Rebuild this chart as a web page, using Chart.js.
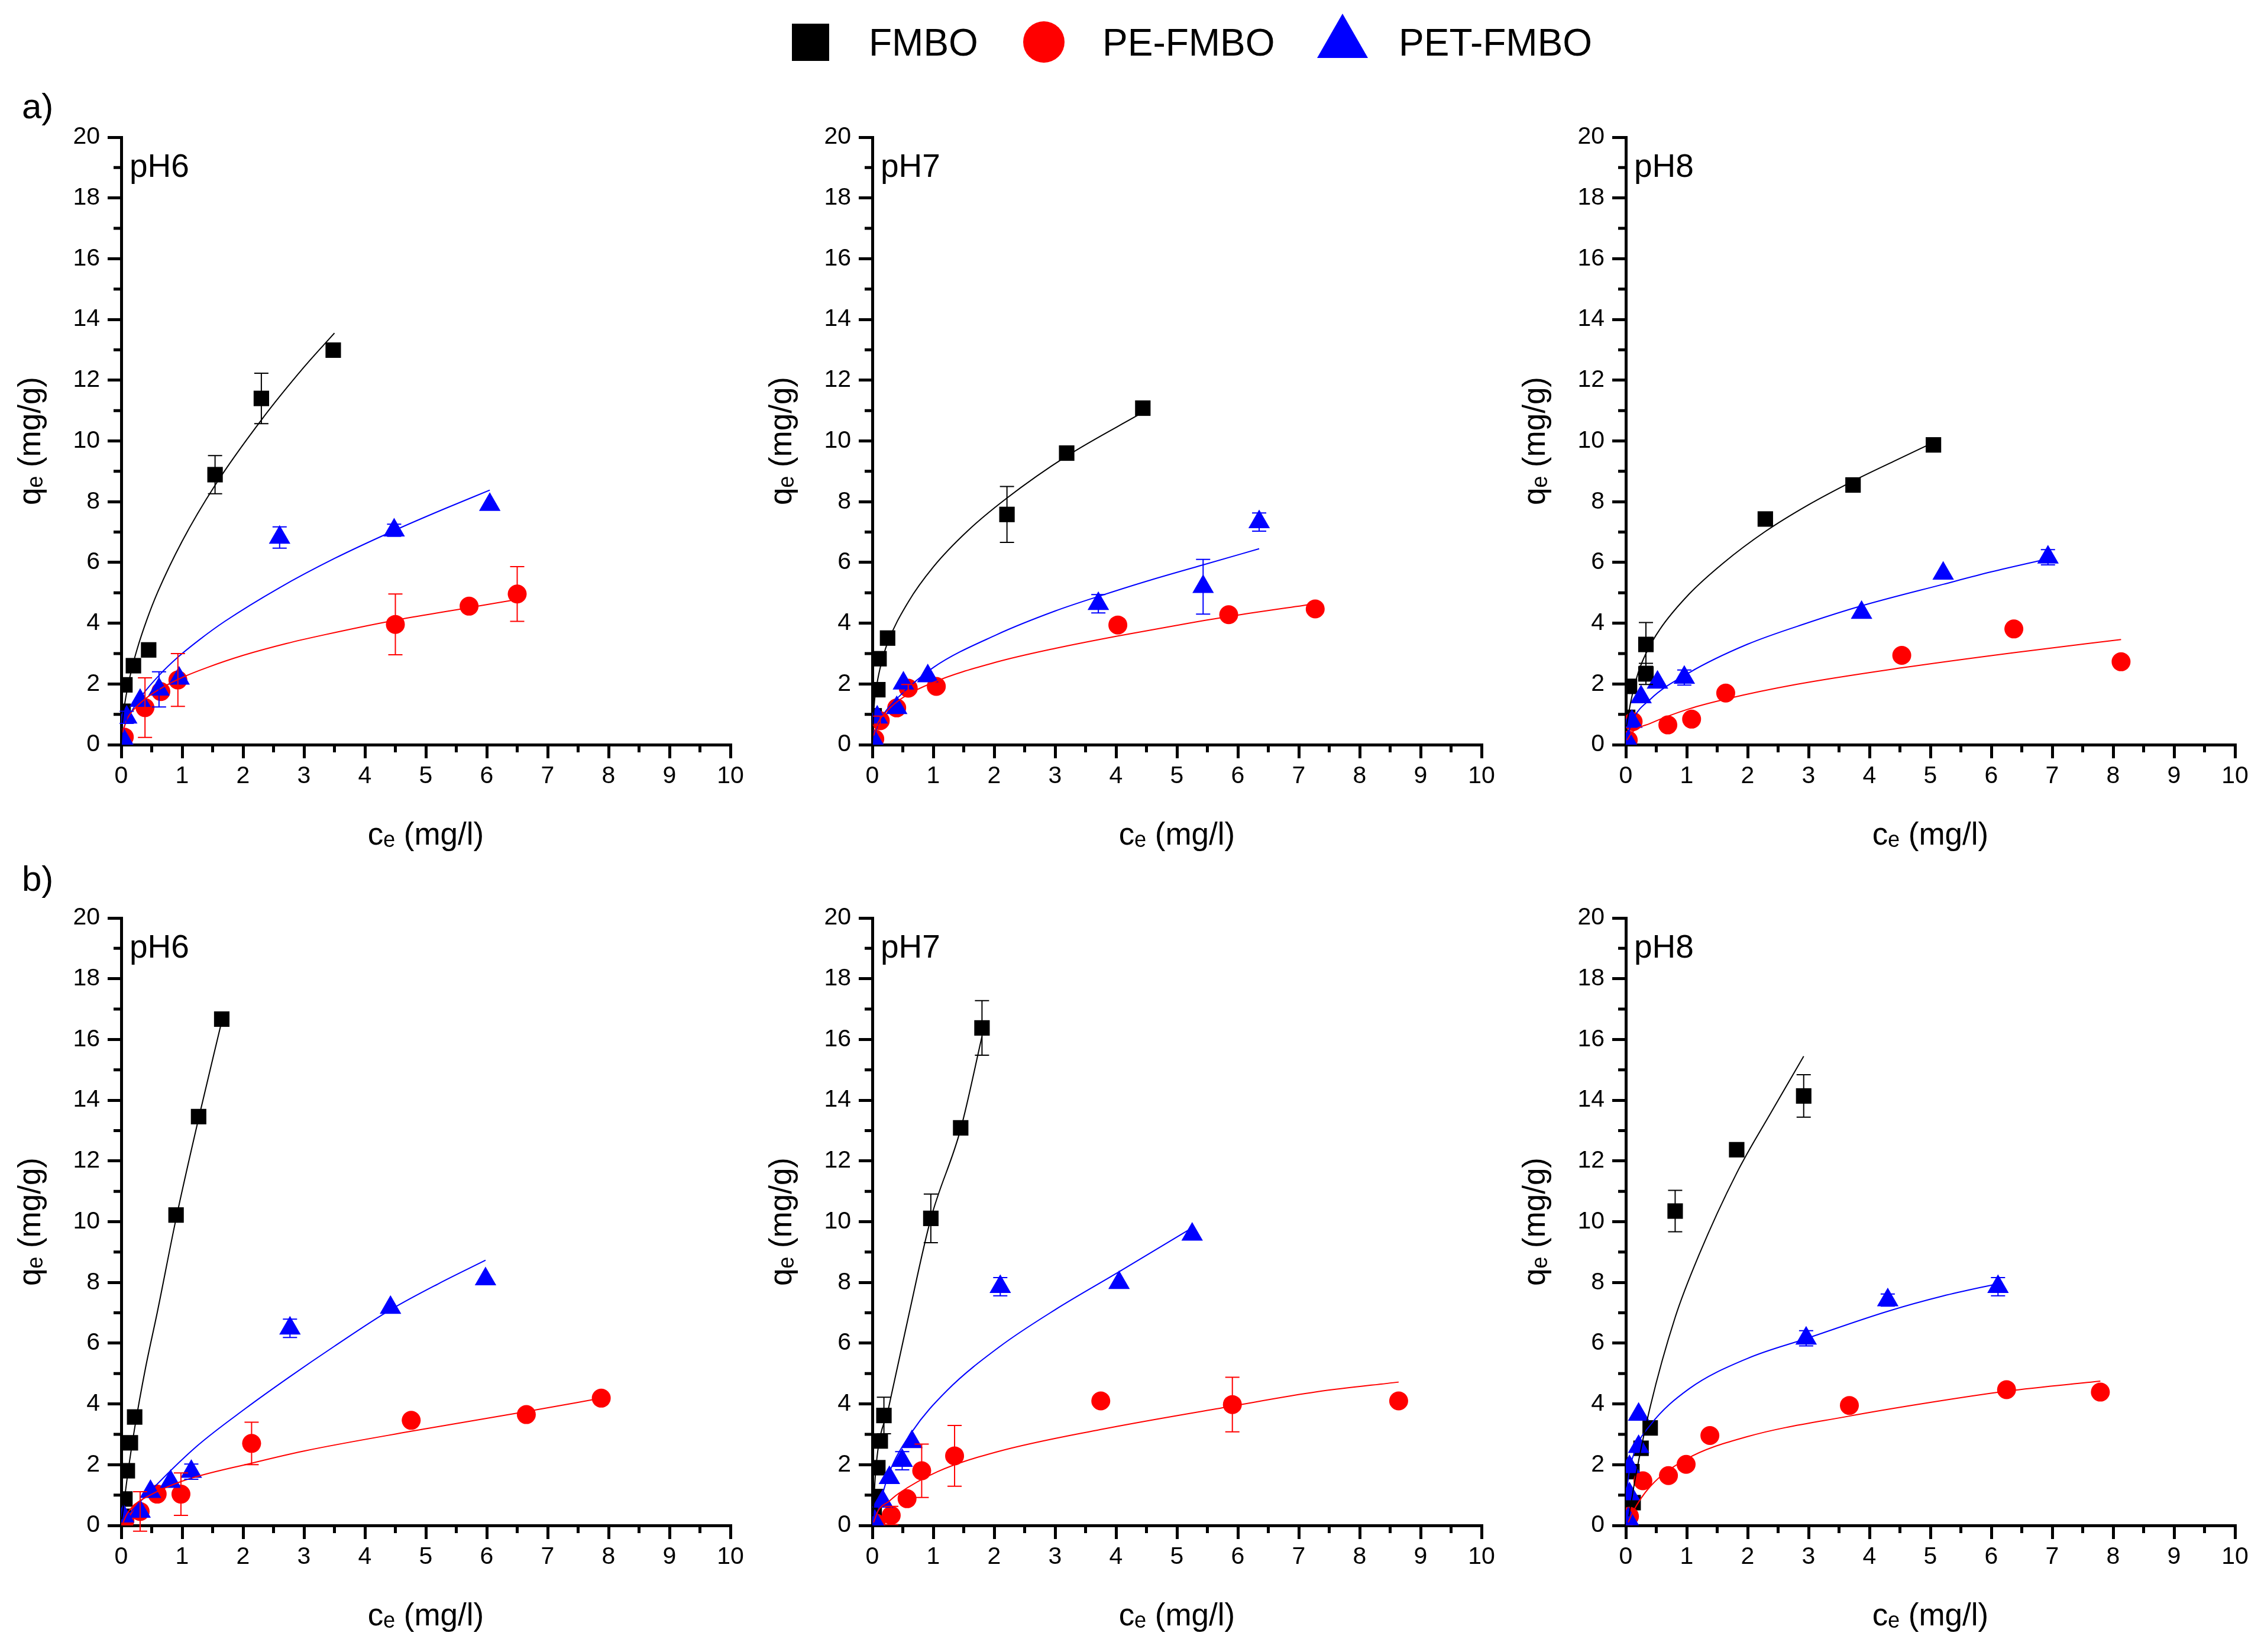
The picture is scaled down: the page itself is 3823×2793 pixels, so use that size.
<!DOCTYPE html>
<html>
<head>
<meta charset="utf-8">
<title>Adsorption isotherms</title>
<script src="https://cdn.jsdelivr.net/npm/chart.js@4.4.1/dist/chart.umd.min.js"></script>
<style>
   html, body { margin: 0; padding: 0; background: #fff; }
   .page {
      position: relative;
      width: 3823px;
      height: 2793px;
      overflow: hidden;
      background: #fff;
      font-family: 'Liberation Sans', Arial, sans-serif;
      color: #000;
   }
   .page canvas { position: absolute; }
   .row-label { position: absolute; left: 37px; font-size: 60px; line-height: 60px; }
   .legend__text { position: absolute; top: 40px; font-size: 64px; line-height: 64px; white-space: nowrap; }
   .legend__square { position: absolute; left: 1339px; top: 40px; width: 63px; height: 63px; background: #000; }
   .legend__circle { position: absolute; left: 1730px; top: 36px; width: 70px; height: 70px; border-radius: 50%; background: #f00; }
   .legend__triangle {
      position: absolute; left: 2227px; top: 23px; width: 0; height: 0;
      border-left: 43px solid transparent; border-right: 43px solid transparent; border-bottom: 75px solid #00f;
   }
</style>
</head>
<body>
<div class="page" id="page">
   <div class="legend__square"></div>
   <div class="legend__text" id="leg0" style="left:1469px"></div>
   <div class="legend__circle"></div>
   <div class="legend__text" id="leg1" style="left:1864px"></div>
   <div class="legend__triangle"></div>
   <div class="legend__text" id="leg2" style="left:2365px"></div>
   <div class="row-label" id="row0" style="top:150px"></div>
   <div class="row-label" id="row1" style="top:1456px"></div>
</div>
<script>
// ---- values: [ce, qe, error] and fitted curves [ce, qe] ----
const SERIES = ['FMBO', 'PE-FMBO', 'PET-FMBO'];
const PH_LABELS = ['pH6', 'pH7', 'pH8'];
const ROW_LABELS = ['a)', 'b)'];
const X_TICKS = [0, 1, 2, 3, 4, 5, 6, 7, 8, 9, 10];
const Y_TICKS = [0, 2, 4, 6, 8, 10, 12, 14, 16, 18, 20];
const X_TITLE = 'c\u2091 (mg/l)';
const Y_TITLE = 'q\u2091 (mg/g)';

// a) pH6
const a_pH6_FMBO = [[0.03,1.10,0],[0.06,1.97,0],[0.20,2.60,0],[0.45,3.12,0],[1.54,8.89,0.63],[2.30,11.40,0.83],[3.48,12.99,0]];
const a_pH6_PE = [[0.05,0.25,0],[0.39,1.22,0.98],[0.65,1.75,0],[0.93,2.13,0.87],[4.50,3.96,1.00],[5.71,4.56,0],[6.50,4.96,0.90]];
const a_pH6_PET = [[0.05,0.12,0],[0.09,0.90,0.20],[0.31,1.45,0],[0.62,1.82,0.58],[0.95,2.18,0],[2.60,6.82,0.35],[4.48,7.06,0.20],[6.05,7.90,0]];
const a_pH6_FMBO_fit = [[0,0],[0.02,0.74],[0.06,1.38],[0.16,2.39],[0.26,3.14],[0.42,4.11],[0.6,5.03],[1.0,6.7],[1.54,8.54],[2.3,10.69],[3.0,12.43],[3.5,13.55]];
const a_pH6_PE_fit = [[0.02,0.4],[0.1,0.86],[0.24,1.23],[0.44,1.58],[0.7,1.91],[1.02,2.23],[1.41,2.54],[2.0,2.94],[2.71,3.33],[3.34,3.62],[4.48,4.09],[5.5,4.44],[6.5,4.78]];
const a_pH6_PET_fit = [[0.01,0.2],[0.03,0.45],[0.15,1.02],[0.34,1.62],[0.63,2.3],[0.93,2.88],[1.28,3.45],[1.7,4.06],[2.6,5.17],[3.5,6.13],[4.48,7.05],[5.3,7.76],[6.05,8.38]];

// a) pH7
const a_pH7_FMBO = [[0.03,0.95,0],[0.09,1.81,0],[0.11,2.83,0],[0.25,3.51,0],[2.21,7.58,0.92],[3.19,9.60,0],[4.44,11.08,0]];
const a_pH7_PE = [[0.04,0.19,0],[0.13,0.79,0.15],[0.40,1.21,0],[0.59,1.86,0.12],[1.05,1.92,0],[4.03,3.94,0],[5.85,4.28,0],[7.27,4.47,0]];
const a_pH7_PET = [[0.04,0.10,0],[0.08,0.90,0],[0.40,1.21,0],[0.51,2.02,0],[0.91,2.26,0],[3.71,4.64,0.30],[5.43,5.20,0.90],[6.35,7.33,0.30]];
const a_pH7_FMBO_fit = [[0,0],[0.03,1.3],[0.08,2.05],[0.15,2.7],[0.25,3.35],[0.59,4.7],[1.0,5.85],[1.56,7.03],[2.21,8.12],[3.19,9.5],[4.44,10.94]];
const a_pH7_PE_fit = [[0.02,0.3],[0.1,0.75],[0.2,1.02],[0.43,1.45],[1.0,2.05],[2.04,2.72],[3.0,3.17],[4.03,3.58],[5.0,3.93],[5.85,4.22],[7.27,4.64]];
const a_pH7_PET_fit = [[0.02,0.2],[0.1,0.7],[0.2,1.05],[0.43,1.57],[1.0,2.54],[2.04,3.62],[3.0,4.4],[3.71,4.88],[4.5,5.38],[5.43,5.92],[6.35,6.45]];

// a) pH8
const a_pH8_FMBO = [[0.03,0.90,0],[0.06,1.92,0],[0.33,2.33,0.35],[0.33,3.30,0.72],[2.29,7.43,0],[3.73,8.55,0],[5.05,9.87,0]];
const a_pH8_PE = [[0.04,0.15,0],[0.12,0.76,0],[0.69,0.65,0],[1.08,0.84,0],[1.64,1.70,0],[4.53,2.94,0],[6.37,3.81,0],[8.13,2.73,0]];
const a_pH8_PET = [[0.04,0.10,0],[0.10,0.76,0],[0.25,1.57,0],[0.52,2.05,0],[0.96,2.21,0.25],[3.87,4.35,0],[5.21,5.64,0],[6.93,6.17,0.25]];
const a_pH8_FMBO_fit = [[0.01,0.6],[0.08,1.4],[0.2,2.35],[0.33,3.0],[0.56,3.8],[1.04,4.96],[1.6,5.98],[2.29,7.02],[3.0,7.9],[3.73,8.68],[4.4,9.33],[5.05,9.95]];
const a_pH8_PE_fit = [[0.02,0.15],[0.1,0.4],[0.4,0.7],[1.04,1.18],[1.64,1.5],[2.79,1.98],[4.53,2.53],[6.37,3.03],[8.13,3.46]];
const a_pH8_PET_fit = [[0.02,0.2],[0.1,0.75],[0.4,1.49],[1.04,2.37],[1.99,3.3],[3.0,4.02],[3.87,4.57],[5.21,5.28],[6.0,5.69],[6.93,6.12]];

// b) pH6
const b_pH6_FMBO = [[0.03,0.30,0],[0.06,0.87,0],[0.10,1.80,0],[0.15,2.72,0],[0.22,3.57,0],[0.90,10.22,0],[1.27,13.46,0],[1.65,16.67,0]];
const b_pH6_PE = [[0.03,0.10,0],[0.06,0.16,0],[0.31,0.46,0.65],[0.59,1.03,0],[0.98,1.03,0.70],[2.14,2.70,0.70],[4.76,3.46,0],[6.65,3.65,0],[7.88,4.19,0]];
const b_pH6_PET = [[0.04,0.30,0],[0.31,0.46,0],[0.48,1.11,0],[0.81,1.44,0],[1.15,1.77,0.25],[2.77,6.49,0.30],[4.42,7.17,0],[5.98,8.11,0]];
const b_pH6_FMBO_fit = [[0.01,0.2],[0.1,1.6],[0.22,3.2],[0.4,5.2],[0.59,7.0],[0.9,10.1],[1.27,13.4],[1.65,16.6]];
const b_pH6_PE_fit = [[0.03,0.1],[0.1,0.4],[0.2,0.65],[0.43,0.95],[0.99,1.45],[2.14,2.05],[3.0,2.45],[4.76,3.1],[6.65,3.75],[7.88,4.19]];
const b_pH6_PET_fit = [[0.02,0.1],[0.06,0.21],[0.43,1.03],[1.23,2.59],[2.04,3.85],[2.77,4.9],[3.5,5.9],[4.42,7.1],[5.2,7.95],[5.98,8.73]];

// b) pH7
const b_pH7_FMBO = [[0.03,0.40,0],[0.06,0.95,0],[0.09,1.90,0],[0.13,2.78,0],[0.19,3.62,0.60],[0.96,10.11,0.80],[1.45,13.09,0],[1.80,16.38,0.90]];
const b_pH7_PE = [[0.06,0.08,0],[0.31,0.33,0.30],[0.57,0.88,0],[0.81,1.80,0.88],[1.35,2.29,1.00],[3.75,4.10,0],[5.91,3.98,0.90],[8.64,4.10,0]];
const b_pH7_PET = [[0.04,0.13,0],[0.17,0.79,0],[0.28,1.57,0],[0.49,2.13,0.30],[0.65,2.75,0],[2.10,7.86,0.30],[4.05,7.99,0],[5.25,9.58,0]];
const b_pH7_FMBO_fit = [[0.01,0.3],[0.06,1.93],[0.27,3.9],[0.59,6.85],[0.96,10.1],[1.45,13.05],[1.8,16.1]];
const b_pH7_PE_fit = [[0.02,0.1],[0.1,0.5],[0.27,0.79],[0.43,1.05],[1.07,1.77],[2.04,2.42],[3.75,3.16],[5.91,3.93],[7.3,4.4],[8.64,4.72]];
const b_pH7_PET_fit = [[0.02,0.15],[0.06,0.3],[0.27,1.7],[0.65,3.08],[1.23,4.45],[2.1,5.9],[3.0,7.1],[4.05,8.35],[5.25,9.8]];

// b) pH8
const b_pH8_FMBO = [[0.04,0.30,0],[0.10,1.77,0],[0.12,0.75,0],[0.25,2.54,0],[0.40,3.21,0],[0.81,10.35,0.68],[1.82,12.37,0],[2.92,14.14,0.70]];
const b_pH8_PE = [[0.06,0.30,0],[0.28,1.47,0],[0.70,1.64,0],[0.99,2.01,0],[1.38,2.96,0],[3.67,3.95,0],[6.25,4.47,0],[7.79,4.39,0]];
const b_pH8_PET = [[0.04,0.21,0],[0.06,1.03,0],[0.06,1.93,0],[0.21,2.59,0],[0.21,3.65,0],[2.96,6.16,0.25],[4.30,7.42,0.20],[6.11,7.86,0.30]];
const b_pH8_FMBO_fit = [[0.05,0.3],[0.16,1.6],[0.4,3.9],[0.81,6.85],[1.2,8.9],[1.82,11.6],[2.4,13.65],[2.92,15.45]];
const b_pH8_PE_fit = [[0.04,0.1],[0.12,0.46],[0.4,1.28],[0.99,2.18],[1.99,2.92],[3.67,3.6],[5.0,4.05],[6.25,4.42],[7.79,4.75]];
const b_pH8_PET_fit = [[0.01,0.9],[0.04,1.55],[0.16,2.5],[0.4,3.3],[1.04,4.5],[2.0,5.5],[2.96,6.15],[4.3,7.05],[5.2,7.55],[6.11,7.96]];

// ---- panels (row, column) ----
const PANELS = [
   { row: 0, col: 0, points: [a_pH6_FMBO, a_pH6_PE, a_pH6_PET], fits: [a_pH6_FMBO_fit, a_pH6_PE_fit, a_pH6_PET_fit] },
   { row: 0, col: 1, points: [a_pH7_FMBO, a_pH7_PE, a_pH7_PET], fits: [a_pH7_FMBO_fit, a_pH7_PE_fit, a_pH7_PET_fit] },
   { row: 0, col: 2, points: [a_pH8_FMBO, a_pH8_PE, a_pH8_PET], fits: [a_pH8_FMBO_fit, a_pH8_PE_fit, a_pH8_PET_fit] },
   { row: 1, col: 0, points: [b_pH6_FMBO, b_pH6_PE, b_pH6_PET], fits: [b_pH6_FMBO_fit, b_pH6_PE_fit, b_pH6_PET_fit] },
   { row: 1, col: 1, points: [b_pH7_FMBO, b_pH7_PE, b_pH7_PET], fits: [b_pH7_FMBO_fit, b_pH7_PE_fit, b_pH7_PET_fit] },
   { row: 1, col: 2, points: [b_pH8_FMBO, b_pH8_PE, b_pH8_PET], fits: [b_pH8_FMBO_fit, b_pH8_PE_fit, b_pH8_PET_fit] },
];

// ---- styles / layout ----
const FONT = "'Liberation Sans', Arial, sans-serif";
const COLORS = ['#000000', '#ff0000', '#0000ff'];
const MARKERS = ['rect', 'circle', 'triangle'];
const RADII = [18.5, 16, 21];
const COL_LEFT = [205, 1475, 2749];   // plot-area left edge on the page
const ROW_TOP = [232, 1552];          // plot-area top edge on the page
const AXIS_W = 205;
const PAD_TOP = 60;
const PAD_RIGHT = 40;
const PLOT_W = 1030;
const PLOT_H = 1027;
const CANVAS_H = 1300;

Chart.defaults.font.family = FONT;
Chart.defaults.color = '#000';

SERIES.forEach((name, i) => { document.getElementById('leg' + i).textContent = name; });
ROW_LABELS.forEach((txt, i) => { document.getElementById('row' + i).textContent = txt; });

// small unlabeled ticks half way between the labelled ones
const minorTicks = {
   id: 'minorTicks',
   afterDraw(chart) {
      const {ctx, chartArea, scales} = chart;
      const xs = scales.x, ys = scales.y;
      const xStep = xs.options.ticks.stepSize / 2;
      const yStep = ys.options.ticks.stepSize / 2;
      ctx.save();
      ctx.strokeStyle = '#000';
      ctx.lineWidth = 5;
      ctx.beginPath();
      for (let v = ys.min + yStep; v < ys.max; v += 2 * yStep) {
         const py = ys.getPixelForValue(v);
         ctx.moveTo(chartArea.left - 13, py);
         ctx.lineTo(chartArea.left, py);
      }
      for (let v = xs.min + xStep; v < xs.max; v += 2 * xStep) {
         const px = xs.getPixelForValue(v);
         ctx.moveTo(px, chartArea.bottom);
         ctx.lineTo(px, chartArea.bottom + 13);
      }
      ctx.stroke();
      ctx.restore();
   }
};

const errorBars = {
   id: 'errorBars',
   afterDatasetsDraw(chart) {
      const {ctx, scales: {x, y}} = chart;
      ctx.save();
      ctx.lineWidth = 2;
      chart.data.datasets.forEach(ds => {
         if (!ds.errors) return;
         ctx.strokeStyle = ds.backgroundColor;
         ds.data.forEach((p, i) => {
            const e = ds.errors[i];
            if (!e) return;
            const px = x.getPixelForValue(p.x);
            const top = y.getPixelForValue(p.y + e);
            const bot = y.getPixelForValue(p.y - e);
            ctx.beginPath();
            ctx.moveTo(px, top); ctx.lineTo(px, bot);
            ctx.moveTo(px - 12, top); ctx.lineTo(px + 12, top);
            ctx.moveTo(px - 12, bot); ctx.lineTo(px + 12, bot);
            ctx.stroke();
         });
      });
      ctx.restore();
   }
};

const panelLabel = {
   id: 'panelLabel',
   afterDraw(chart, args, opts) {
      const {ctx, chartArea} = chart;
      ctx.save();
      ctx.font = '55px ' + FONT;
      ctx.fillStyle = '#000';
      ctx.textBaseline = 'alphabetic';
      ctx.fillText(opts.text, chartArea.left + 14, chartArea.top + 67);
      ctx.restore();
   }
};

function axisOptions(ticks, title, isX) {
   return {
      type: 'linear',
      min: ticks[0],
      max: ticks[ticks.length - 1],
      ticks: {
         stepSize: ticks[1] - ticks[0],
         autoSkip: false,
         maxRotation: 0,
         padding: isX ? 6 : 13,
         color: '#000',
         font: { size: 41, family: FONT },
      },
      grid: {
         display: true,
         drawOnChartArea: false,
         drawTicks: true,
         tickLength: 23,
         tickWidth: 5,
         lineWidth: 5,
         tickColor: '#000',
         color: '#000',
      },
      border: { display: true, color: '#000', width: 5 },
      title: {
         display: true,
         text: title,
         color: '#000',
         font: { size: 53, family: FONT },
         padding: isX ? { top: 0, bottom: 27 } : { top: 22, bottom: 0 },
      },
      afterFit: scale => {
         if (isX) scale.height = CANVAS_H - PAD_TOP - PLOT_H;
         else scale.width = AXIS_W;
      },
   };
}

function buildDatasets(panel) {
   const sets = [];
   panel.fits.forEach((fit, i) => {
      sets.push({
         label: SERIES[i] + ' fit',
         data: fit.map(p => ({ x: p[0], y: p[1] })),
         showLine: true,
         pointRadius: 0,
         borderColor: COLORS[i],
         backgroundColor: COLORS[i],
         borderWidth: 2,
         cubicInterpolationMode: 'monotone',
         fill: false,
         order: 0,
      });
   });
   panel.points.forEach((pts, i) => {
      sets.push({
         label: SERIES[i],
         data: pts.map(p => ({ x: p[0], y: p[1] })),
         errors: pts.map(p => p[2]),
         showLine: false,
         pointStyle: MARKERS[i],
         pointRadius: RADII[i],
         backgroundColor: COLORS[i],
         borderColor: COLORS[i],
         borderWidth: 0,
         order: 3 - i,
      });
   });
   return sets;
}

const page = document.getElementById('page');

PANELS.forEach(panel => {
   const canvas = document.createElement('canvas');
   canvas.width = AXIS_W + PLOT_W + PAD_RIGHT;
   canvas.height = CANVAS_H;
   canvas.style.left = (COL_LEFT[panel.col] - AXIS_W) + 'px';
   canvas.style.top = (ROW_TOP[panel.row] - PAD_TOP) + 'px';
   canvas.style.width = canvas.width + 'px';
   canvas.style.height = canvas.height + 'px';
   page.appendChild(canvas);

   new Chart(canvas, {
      type: 'scatter',
      data: { datasets: buildDatasets(panel) },
      options: {
         responsive: false,
         devicePixelRatio: 1,
         animation: false,
         events: [],
         layout: { padding: { top: PAD_TOP, right: PAD_RIGHT, left: 0, bottom: 0 } },
         plugins: {
            legend: { display: false },
            tooltip: { enabled: false },
            panelLabel: { text: PH_LABELS[panel.col] },
         },
         scales: {
            x: axisOptions(X_TICKS, X_TITLE, true),
            y: axisOptions(Y_TICKS, Y_TITLE, false),
         },
      },
      plugins: [minorTicks, errorBars, panelLabel],
   });
});
</script>
</body>
</html>
